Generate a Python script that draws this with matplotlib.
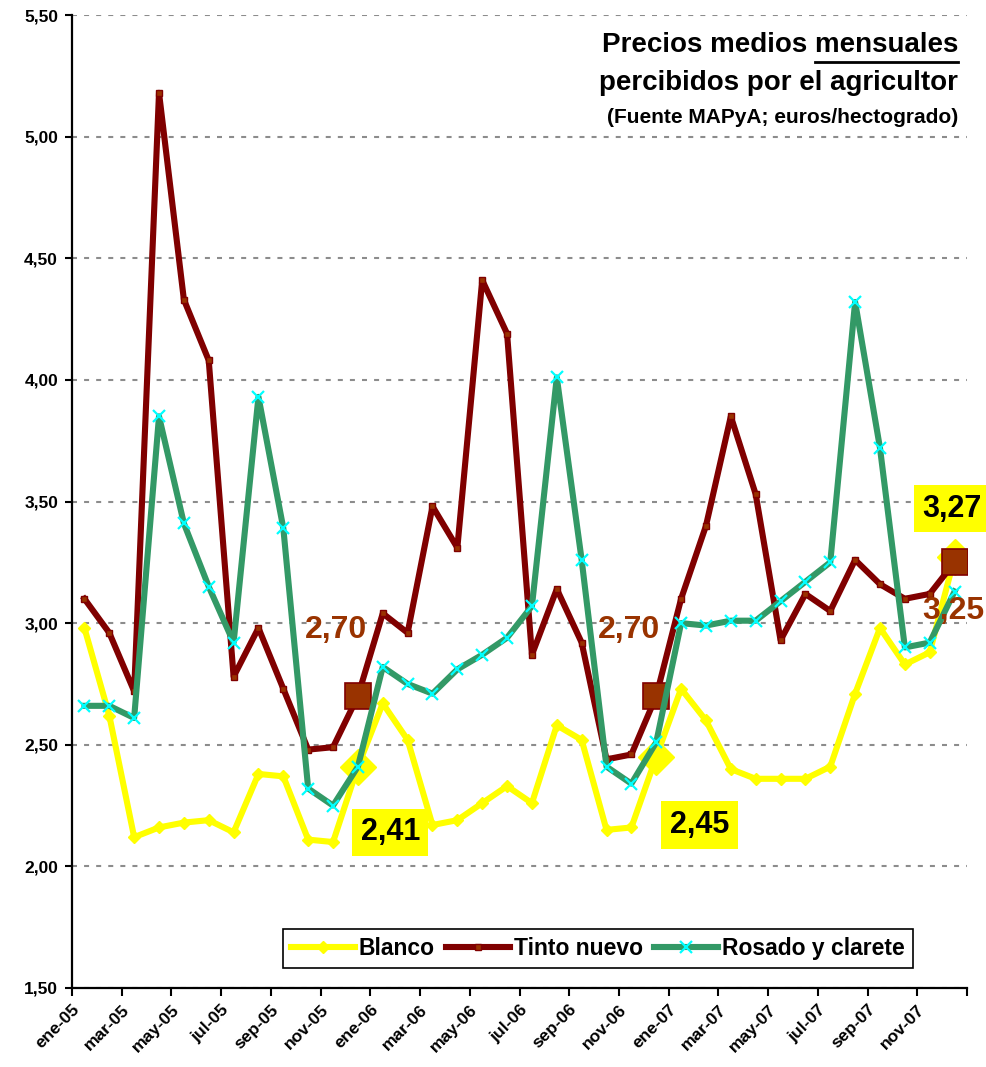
import numpy as np
import matplotlib.pyplot as plt
from matplotlib.lines import Line2D
from matplotlib.ticker import FuncFormatter

plt.rcParams['font.family'] = ['Liberation Sans', 'DejaVu Sans']

#   DATOS (euros/hectogrado)
meses = ['ene', 'feb', 'mar', 'abr', 'may', 'jun', 'jul', 'ago', 'sep', 'oct', 'nov', 'dic']
categorias = [f'{m}-{a}' for a in ['05', '06', '07'] for m in meses]
etiquetas_x = categorias[::2]

blanco = [2.98, 2.62, 2.12, 2.16, 2.18, 2.19, 2.14, 2.38, 2.37, 2.11, 2.10, 2.41,
          2.67, 2.52, 2.17, 2.19, 2.26, 2.33, 2.26, 2.58, 2.52, 2.15, 2.16, 2.45,
          2.73, 2.60, 2.40, 2.36, 2.36, 2.36, 2.41, 2.71, 2.98, 2.83, 2.88, 3.27]
tinto = [3.10, 2.96, 2.72, 5.18, 4.33, 4.08, 2.78, 2.98, 2.73, 2.48, 2.49, 2.70,
         3.04, 2.96, 3.48, 3.31, 4.41, 4.19, 2.87, 3.14, 2.92, 2.44, 2.46, 2.70,
         3.10, 3.40, 3.85, 3.53, 2.93, 3.12, 3.05, 3.26, 3.16, 3.10, 3.12, 3.25]
rosado = [2.66, 2.66, 2.61, 3.85, 3.41, 3.15, 2.92, 3.93, 3.39, 2.32, 2.25, 2.41,
          2.82, 2.75, 2.71, 2.81, 2.87, 2.94, 3.07, 4.01, 3.26, 2.41, 2.34, 2.51,
          3.00, 2.99, 3.01, 3.01, 3.09, 3.17, 3.25, 4.32, 3.72, 2.90, 2.92, 3.13]

# meses destacados (diciembre de cada año)
destacados = [11, 23, 35]

def coma(v):
    return f'{v:.2f}'.replace('.', ',')

fig = plt.figure(figsize=(9.87, 10.67), dpi=100)
ax = fig.add_axes([72 / 987, 1 - 988 / 1067, 895 / 987, 973 / 1067])

x = np.arange(len(categorias))

# GRID
ax.set_ylim(1.5, 5.5)
ax.set_xlim(-0.5, len(categorias) - 0.5)
ax.set_yticks(np.arange(1.5, 5.51, 0.5))
ax.yaxis.grid(True, color='#8c8c8c', linestyle=(0, (2.4, 3.4)), linewidth=1.5)
ax.set_axisbelow(True)

# LINEAS
l_bl, = ax.plot(x, blanco, color='#ffff00', lw=4.4, marker='D', ms=6,
                mfc='#ffff00', mec='#ffff00', label='Blanco', zorder=3)
l_ti, = ax.plot(x, tinto, color='#800000', lw=4.4, marker='s', ms=5,
                mfc='#993300', mec='#800000', mew=1, label='Tinto nuevo', zorder=4)
l_ro, = ax.plot(x, rosado, color='#339966', lw=4.4, marker='x', ms=9,
                mec='#00ffff', mew=1.6, label='Rosado y clarete', zorder=5)

# marcadores grandes
ax.plot(x[destacados], np.array(blanco)[destacados], ls='none', marker='D', ms=18,
        mfc='#ffff00', mec='#ffff00', zorder=3.5)
ax.plot(x[destacados], np.array(tinto)[destacados], ls='none', marker='s', ms=19,
        mfc='#993300', mec='#800000', mew=1.2, zorder=4.5)

# ETIQUETAS
marron = '#993300'
caja = dict(boxstyle='square,pad=0.28', facecolor='#ffff00', edgecolor='none')
tam = 23
ax.text(10.1, 2.97, coma(tinto[11]), color=marron, fontsize=tam, fontweight='bold',
        ha='center', va='center', zorder=6)
ax.text(21.9, 2.97, coma(tinto[23]), color=marron, fontsize=tam, fontweight='bold',
        ha='center', va='center', zorder=6)
ax.text(34.95, 3.05, coma(tinto[35]), color=marron, fontsize=tam, fontweight='bold',
        ha='center', va='center', zorder=6)
ax.text(12.3, 2.14, coma(blanco[11]), color='black', fontsize=22, fontweight='bold',
        ha='center', va='center', bbox=caja, zorder=6)
ax.text(24.75, 2.17, coma(blanco[23]), color='black', fontsize=22, fontweight='bold',
        ha='center', va='center', bbox=caja, zorder=6)
ax.text(34.9, 3.47, coma(blanco[35]), color='black', fontsize=22, fontweight='bold',
        ha='center', va='center', bbox=caja, zorder=6)

# EJES
for lado in ['top', 'right']:
    ax.spines[lado].set_visible(False)
for lado in ['left', 'bottom']:
    ax.spines[lado].set_linewidth(1.6)
    ax.spines[lado].set_zorder(7)

ax.yaxis.set_major_formatter(FuncFormatter(lambda v, p: coma(v)))
ax.tick_params(axis='y', length=5, width=1.5, labelsize=12.5, pad=5)
ax.set_xticks(np.arange(-0.5, len(categorias), 2))
ax.set_xticklabels(etiquetas_x + [''], rotation=45, ha='right', rotation_mode='anchor',
                   fontsize=12.5, fontweight='bold')
ax.tick_params(axis='x', length=6, width=1.5, pad=4)
for t in ax.get_yticklabels():
    t.set_fontweight('bold')

# LEYENDA
leg = ax.legend(handles=[l_bl, l_ti, l_ro], loc='lower left',
                bbox_to_anchor=((283 - 72) / 895, (988 - 968) / 973), borderaxespad=0,
                ncol=3, fancybox=False, framealpha=1, edgecolor='black',
                prop={'weight': 'bold', 'size': 16.5}, handlelength=2.8,
                handletextpad=0.15, columnspacing=0.5, borderpad=0.35)
leg.get_frame().set_linewidth(1.2)
leg.set_zorder(8)

# TITULO
xr = 958 / 987
fig.text(xr, 1 - 32 / 1067, 'Precios medios mensuales', ha='right', va='top',
         fontsize=20, fontweight='bold')
fig.text(xr, 1 - 70 / 1067, 'percibidos por el agricultor', ha='right', va='top',
         fontsize=20, fontweight='bold')
fig.text(xr, 1 - 108 / 1067, '(Fuente MAPyA; euros/hectogrado)', ha='right', va='top',
         fontsize=15, fontweight='bold')

# subrayado de "mensuales"
medida = fig.text(0, 0, 'mensuales', fontsize=20, fontweight='bold', alpha=0)
fig.canvas.draw()
ancho = medida.get_window_extent().width / fig.bbox.width
medida.remove()
y_sub = 1 - 62 / 1067
fig.add_artist(Line2D([xr - ancho, xr], [y_sub, y_sub], transform=fig.transFigure,
                      color='black', lw=2))

fig.savefig('out.png', dpi=100)
